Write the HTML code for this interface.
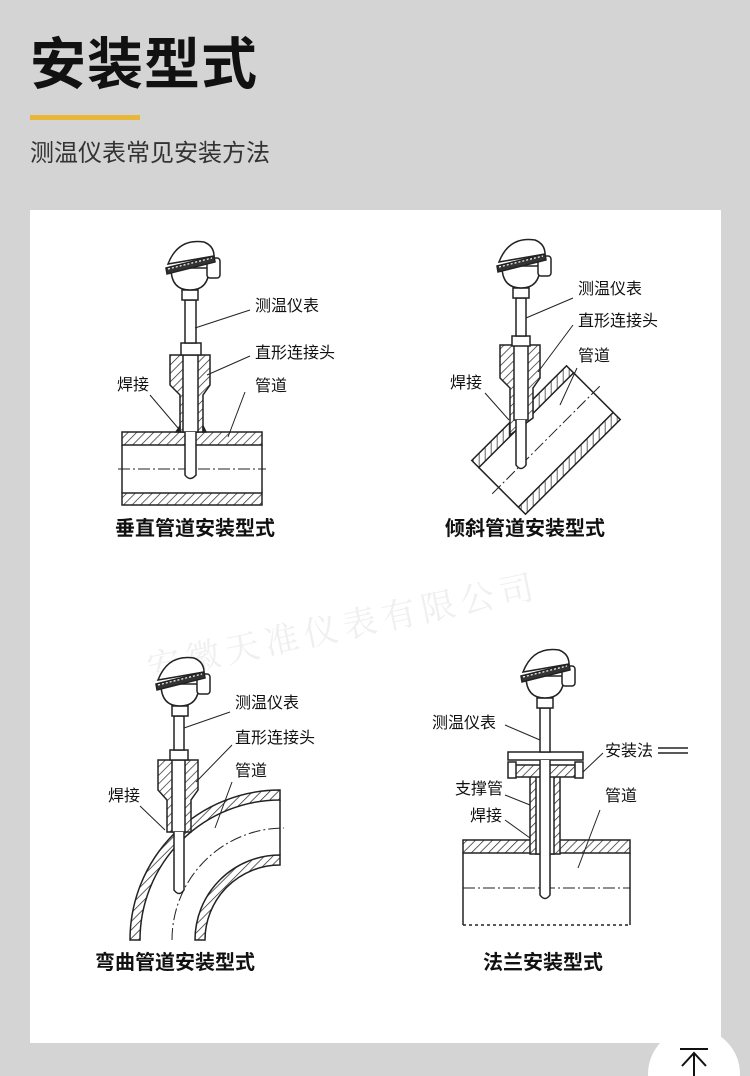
<!DOCTYPE html>
<html><head><meta charset="utf-8"><style>
html,body{margin:0;width:750px;height:1076px;overflow:hidden}
body{background:#d4d4d4;position:relative;font-family:"Liberation Sans","Noto Sans CJK SC",sans-serif}
.t{position:absolute;left:30px;top:30px;font-size:56px;font-weight:bold;color:#111;letter-spacing:1px;line-height:70px}
.y{position:absolute;left:30px;top:115px;width:110px;height:5px;background:#e8b73a}
.s{position:absolute;left:30px;top:139px;font-size:24px;color:#333;line-height:30px}
.p{position:absolute;left:30px;top:210px;width:691px;height:833px;background:#fff}
.c{position:absolute;left:648px;top:1028px;width:92px;height:92px;border-radius:50%;background:#fff}
</style></head><body>
<div class="t">安装型式</div>
<div class="y"></div>
<div class="s">测温仪表常见安装方法</div>
<div class="p"></div>
<div class="c"></div>
<svg width="750" height="1076" style="position:absolute;left:0;top:0" font-family="Liberation Sans, Noto Sans CJK SC, sans-serif">
<defs>
<pattern id="h" width="6" height="6" patternUnits="userSpaceOnUse" patternTransform="rotate(45)"><rect width="6" height="6" fill="#fff"/><line x1="0" y1="0" x2="0" y2="6" stroke="#222" stroke-width="1.4"/></pattern>
<g id="hd" stroke="#222" stroke-width="1.5">
<rect x="-8" y="-10" width="16" height="10" fill="#fff"/>
<path d="M-19,-32 Q-19,-10 0,-10 Q19,-10 19,-32 Z" fill="#fff"/>
<rect x="17" y="-42" width="13" height="20" rx="3" fill="#fff"/>
<path d="M-22,-36 Q-12,-62 14,-58 Q24,-54 24,-44 Z" fill="#fff"/>
<path d="M-24,-32 L24,-44 L25,-38 L-23,-26 Z" fill="#333"/>
<path d="M-22,-31 L22,-42" stroke="#fff" stroke-width="1.2" stroke-dasharray="2 2"/>
</g>
</defs>
<text x="150" y="680" font-size="34" fill="#efefef" transform="rotate(-12 150 680)" font-family="Liberation Serif, Noto Serif CJK SC, serif" letter-spacing="6">安徽天准仪表有限公司</text>
<g stroke="#222" stroke-width="1.5" fill="none">
<!-- Diagram 1 -->
<rect x="122" y="432" width="140" height="13" fill="url(#h)"/>
<rect x="122" y="493" width="140" height="12" fill="url(#h)"/>
<line x1="122" y1="445" x2="122" y2="493"/><line x1="262" y1="445" x2="262" y2="493"/>
<line x1="118" y1="469" x2="266" y2="469" stroke-dasharray="12 3 2 3" stroke-width="1"/>
<path d="M170,355 H210 V385 L203,395 V432 H180 V395 L170,385 Z" fill="url(#h)"/>
<rect x="183" y="355" width="15" height="77" fill="#fff"/>
<rect x="181" y="343" width="20" height="12" fill="#fff"/>
<rect x="185" y="300" width="11" height="43" fill="#fff"/>
<path d="M185,432 V475 Q190,482 196,475 V432" fill="#fff"/>
<use href="#hd" x="190" y="300"/>
<path d="M176,432 l4,-6 v6 Z M206,432 l-3,-6 v6Z" fill="#222"/>
<g stroke-width="1"><line x1="195" y1="328" x2="250" y2="310"/><line x1="207" y1="375" x2="250" y2="356"/><line x1="228" y1="437" x2="245" y2="392"/><line x1="150" y1="395" x2="178" y2="428"/></g>
<!-- Diagram 2 -->
<g transform="rotate(-45 546 440)">
<rect x="479" y="402" width="134" height="10" fill="url(#h)"/>
<rect x="479" y="468" width="134" height="10" fill="url(#h)"/>
<line x1="479" y1="412" x2="479" y2="468"/><line x1="613" y1="412" x2="613" y2="468"/>
<line x1="470" y1="440" x2="622" y2="440" stroke-dasharray="12 3 2 3" stroke-width="1"/>
</g>
<path d="M500,345 H540 V378 L533,388 V418 L510,435 V388 L500,378 Z" fill="url(#h)"/>
<rect x="514" y="345" width="14" height="75" fill="#fff"/>
<rect x="512" y="336" width="18" height="10" fill="#fff"/>
<rect x="516" y="298" width="10" height="38" fill="#fff"/>
<path d="M516,420 V465 Q521,472 526,465 V420" fill="#fff"/>
<use href="#hd" x="521" y="298"/>
<g stroke-width="1"><line x1="526" y1="318" x2="573" y2="298"/><line x1="538" y1="372" x2="573" y2="325"/><line x1="560" y1="405" x2="577" y2="368"/><line x1="485" y1="393" x2="509" y2="420"/></g>
<!-- Diagram 3 -->
<path d="M130,940 A150,150 0 0 1 280,790 V800 A140,140 0 0 0 140,940 Z" fill="url(#h)"/>
<path d="M195,940 A85,85 0 0 1 280,855 V865 A75,75 0 0 0 205,940 Z" fill="url(#h)"/>
<line x1="280" y1="800" x2="280" y2="855"/>
<path d="M172,940 A112,112 0 0 1 284,828" stroke-dasharray="12 3 2 3" stroke-width="1"/>
<path d="M158,760 H198 V790 L191,800 V832 H167 V800 L158,790 Z" fill="url(#h)"/>
<rect x="172" y="760" width="13" height="72" fill="#fff"/>
<rect x="170" y="750" width="18" height="10" fill="#fff"/>
<rect x="174" y="716" width="10" height="34" fill="#fff"/>
<path d="M174,832 V890 Q179,897 184,890 V832" fill="#fff"/>
<use href="#hd" x="180" y="716"/>
<g stroke-width="1"><line x1="184" y1="728" x2="230" y2="712"/><line x1="196" y1="782" x2="232" y2="745"/><line x1="215" y1="828" x2="232" y2="782"/><line x1="140" y1="806" x2="165" y2="830"/></g>
<!-- Diagram 4 -->
<rect x="463" y="840" width="167" height="13" fill="url(#h)"/>
<line x1="463" y1="853" x2="463" y2="925"/><line x1="630" y1="853" x2="630" y2="925"/>
<line x1="463" y1="888" x2="630" y2="888" stroke-dasharray="12 3 2 3" stroke-width="1"/>
<line x1="463" y1="925" x2="630" y2="925" stroke-dasharray="3 3"/>
<rect x="530" y="770" width="30" height="84" fill="url(#h)"/>
<rect x="536" y="770" width="18" height="84" fill="#fff"/>
<rect x="508" y="752" width="75" height="8" fill="#fff"/>
<rect x="512" y="765" width="67" height="12" fill="url(#h)"/>
<rect x="508" y="762" width="8" height="16" fill="#fff"/><rect x="575" y="762" width="8" height="16" fill="#fff"/>
<rect x="540" y="708" width="10" height="44" fill="#fff"/>
<path d="M540,760 V895 Q545,902 550,895 V760" fill="#fff"/>
<use href="#hd" x="545" y="708"/>
<g stroke-width="1"><line x1="505" y1="725" x2="540" y2="740"/><line x1="583" y1="772" x2="603" y2="753"/><line x1="505" y1="795" x2="530" y2="805"/><line x1="505" y1="820" x2="530" y2="838"/><line x1="578" y1="868" x2="600" y2="810"/></g>
<line x1="658" y1="748" x2="688" y2="748"/><line x1="658" y1="753" x2="688" y2="753"/>
<!-- up arrow -->
<line x1="680" y1="1049" x2="708" y2="1049" stroke="#111" stroke-width="2"/>
<path d="M694,1076 V1053 M682,1066 L694,1053 L706,1066" stroke="#111" stroke-width="2"/>
</g>
<g fill="#111" font-size="16">
<text x="255" y="311">测温仪表</text><text x="255" y="358">直形连接头</text><text x="255" y="391">管道</text><text x="117" y="390">焊接</text>
<text x="578" y="294">测温仪表</text><text x="578" y="326">直形连接头</text><text x="578" y="361">管道</text><text x="450" y="388">焊接</text>
<text x="235" y="708">测温仪表</text><text x="235" y="743">直形连接头</text><text x="235" y="776">管道</text><text x="108" y="801">焊接</text>
<text x="432" y="728">测温仪表</text><text x="605" y="756">安装法</text><text x="455" y="794">支撑管</text><text x="470" y="821">焊接</text><text x="605" y="801">管道</text>
</g>
<g fill="#111" font-size="20" font-weight="bold" text-anchor="middle">
<text x="195" y="535">垂直管道安装型式</text><text x="525" y="535">倾斜管道安装型式</text>
<text x="175" y="969">弯曲管道安装型式</text><text x="543" y="969">法兰安装型式</text>
</g>
</svg>
</body></html>
